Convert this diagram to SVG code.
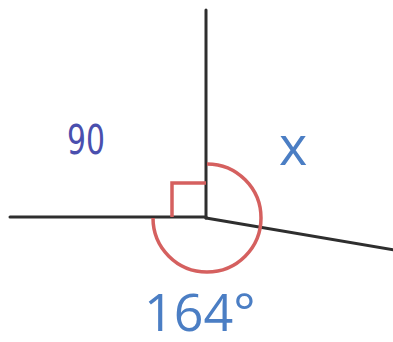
<svg xmlns="http://www.w3.org/2000/svg" width="393" height="342" viewBox="0 0 393 342">
<style>
.ln{stroke:#2e2e2e;stroke-width:3;fill:none;stroke-linecap:round}
.red{stroke:#d5605f;stroke-width:3.5;fill:none}
.blue{fill:#4b7ec4;font-family:"Open Sans","Noto Sans",sans-serif;font-weight:500}
</style>
<rect width="393" height="342" fill="#ffffff"/>
<g id="lines">
<line class="ln" x1="206" y1="10" x2="206" y2="218"/>
<line class="ln" x1="10" y1="217" x2="206" y2="217"/>
<line class="ln" x1="206" y1="218" x2="395" y2="250"/>
</g>
<g id="angles">
<polyline class="red" points="206,183 172,183 172,217"/>
<path class="red" d="M207,164 A54,54 0 1 1 153,218"/>
</g>
<g id="labels">
<text x="67" y="154" font-family="'DejaVu Sans',sans-serif" font-size="40" fill="#4a4fae" textLength="38" lengthAdjust="spacingAndGlyphs">90</text>
<text class="blue" x="279" y="165" font-size="54">x</text>
<text class="blue" x="144" y="331" font-size="52">164°</text>
</g>
</svg>
